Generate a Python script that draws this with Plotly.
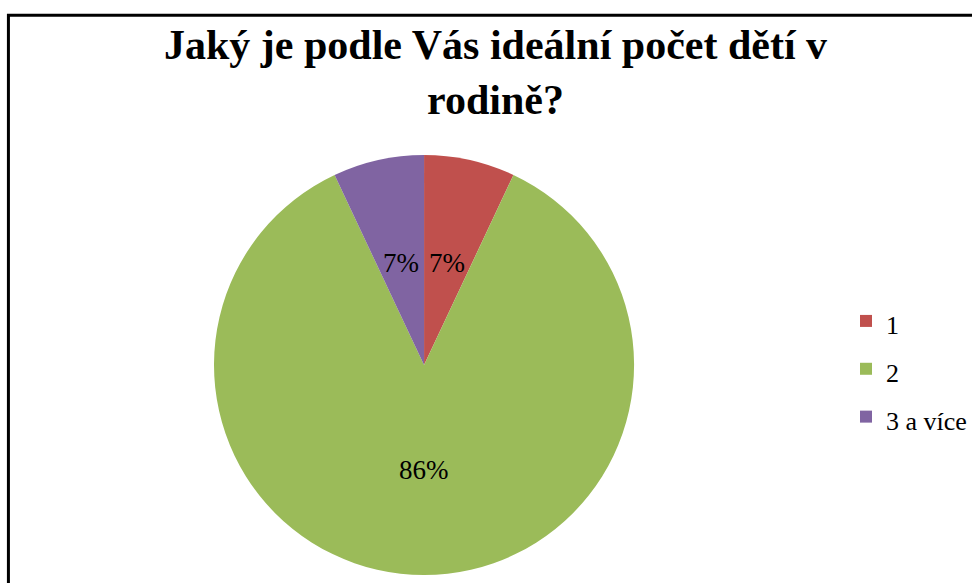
import math
import plotly.graph_objects as go

labels = ["1", "2", "3 a více"]
values = [7, 86, 7]
colors = ["#C0504D", "#9BBB59", "#8064A2"]
title_text = "Jaký je podle Vás ideální počet dětí v<br>rodině?"

W, H = 972, 583
serif = "Liberation Serif"

# pie geometry in pixels
cx_px, cy_px, R_px = 428, 365, 210
dom_half = 212

fig = go.Figure(go.Pie(
    labels=[f'<span style="font-size:26px">{l}</span>' for l in labels],
    values=values,
    marker=dict(colors=colors, line=dict(width=0)),
    sort=False,
    direction="clockwise",
    rotation=0,
    textinfo="none",
    domain=dict(x=[(cx_px - dom_half) / W, (cx_px + dom_half) / W],
                y=[1 - (cy_px + dom_half) / H, 1 - (cy_px - dom_half) / H]),
    hoverinfo="label+percent",
))

# percentage labels at half radius, at each slice's mid angle
total = sum(values)
annotations = []
cum = 0
for v in values:
    mid = (cum + v / 2) / total * 2 * math.pi
    cum += v
    r = 0.5 * R_px
    annotations.append(dict(
        x=(cx_px + r * math.sin(mid)) / W,
        y=1 - (cy_px - r * math.cos(mid)) / H,
        xref="paper", yref="paper",
        text=f"{round(v / total * 100)}%",
        showarrow=False, xanchor="center", yanchor="middle",
        font=dict(family=serif, size=27, color="#000000"),
    ))

annotations.append(dict(
    x=500 / W, y=1 - 20 / H, xref="paper", yref="paper",
    xanchor="center", yanchor="top", showarrow=False,
    text="<b>" + title_text + "</b>",
    font=dict(family=serif, size=42, color="#000000"),
))

fig.update_layout(
    width=W, height=H,
    margin=dict(l=0, r=0, t=0, b=0),
    paper_bgcolor="white",
    plot_bgcolor="white",
    font=dict(family=serif, color="#000000"),
    annotations=annotations,
    legend=dict(
        x=854 / W, xanchor="left",
        y=1 - 292 / H, yanchor="top",
        font=dict(family=serif, size=34.5, color="#000000"),
        itemwidth=30,
        bgcolor="rgba(0,0,0,0)",
    ),
    shapes=[dict(
        type="rect", xref="paper", yref="paper",
        x0=8.5 / W, x1=1.1, y0=-0.1, y1=1 - 15.3 / H,
        line=dict(color="black", width=3),
        fillcolor="rgba(0,0,0,0)", layer="above",
    )],
)

fig.write_html("out.html", config={"displayModeBar": False},
               post_script="document.body.style.margin='0';")
